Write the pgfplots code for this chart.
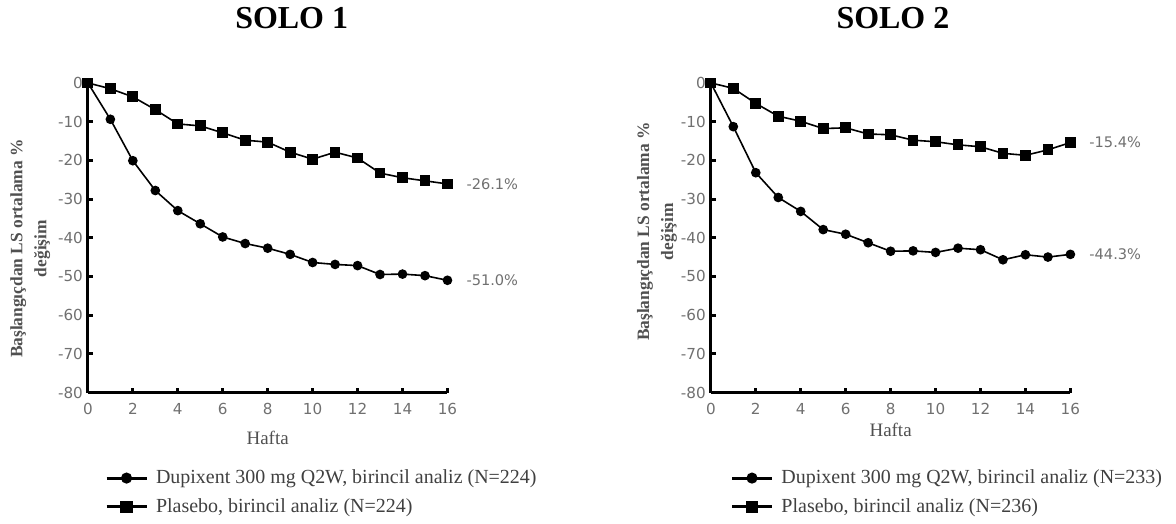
\documentclass[border=0pt]{standalone}
\usepackage{fontspec}
\setmainfont{Liberation Serif}
\newfontfamily\ticksans{DejaVu Sans}
\usepackage{pgfplots}
\pgfplotsset{compat=1.18}
\definecolor{tickgray}{HTML}{707070}
\definecolor{labgray}{HTML}{505050}

\pgfplotstableread{
wk  dupi   plac
0   0.0    0.0
1   -9.4   -1.5
2   -20.1  -3.6
3   -27.8  -6.9
4   -33.0  -10.6
5   -36.4  -11.1
6   -39.8  -12.9
7   -41.5  -14.8
8   -42.7  -15.3
9   -44.3  -17.9
10  -46.4  -19.7
11  -46.9  -17.9
12  -47.2  -19.4
13  -49.5  -23.3
14  -49.4  -24.5
15  -49.8  -25.3
16  -51.0  -26.1
}\soloone

\pgfplotstableread{
wk  dupi   plac
0   0.0    0.0
1   -11.3  -1.4
2   -23.2  -5.3
3   -29.6  -8.6
4   -33.2  -9.9
5   -37.9  -11.8
6   -39.1  -11.6
7   -41.3  -13.2
8   -43.5  -13.4
9   -43.4  -14.8
10  -43.8  -15.2
11  -42.7  -16.0
12  -43.1  -16.5
13  -45.7  -18.2
14  -44.4  -18.7
15  -45.0  -17.3
16  -44.3  -15.4
}\solotwo

\tikzset{endlab/.style={font=\ticksans\fontsize{7.3}{9}\selectfont, text=tickgray, anchor=west}}

\pgfplotsset{
  solo/.style={
    scale only axis, width=180pt, height=155pt,
    anchor=south west, clip=false,
    xmin=0, xmax=16, ymin=-80, ymax=0,
    axis x line=bottom, axis y line=left,
    axis line style={-, line width=1.5pt},
    xtick={0,2,...,16}, ytick={-80,-70,...,0},
    tick align=inside, major tick length=2.5pt,
    tick style={line width=1.5pt, black},
    ticklabel style={font=\ticksans\fontsize{7.6}{9}\selectfont, text=tickgray},
    /pgf/number format/assume math mode=true,
    xticklabel style={yshift=-2pt},
    yticklabel style={xshift=1pt},
    xlabel={Hafta},
    xlabel style={font=\fontsize{9.5}{11}\selectfont, text=labgray},
    ylabel={Başlangıçdan LS ortalama \%\\değişim},
    ylabel style={font=\bfseries\fontsize{8.7}{12}\selectfont, text=labgray,
      align=center, rotate=0, anchor=center},
    legend style={draw=none, fill=none, anchor=north west,
      font=\fontsize{10}{12}\selectfont, text=black!75,
      row sep=2pt, nodes={inner xsep=4pt}},
    legend cell align=left,
    legend image code/.code={%
      \draw[mark repeat=2, mark phase=2, #1, line width=1.5pt]
        plot coordinates {(0pt,0pt) (10pt,0pt) (20pt,0pt)};},
    every axis plot/.append style={black, line width=0.8pt},
  },
  dupi/.style={mark=*, mark size=2pt},
  plac/.style={mark=square*, mark size=2.3pt},
}

\begin{document}
\begin{tikzpicture}
\path (0,0) rectangle (588pt,261pt);

\node[font=\bfseries\fontsize{16}{18}\selectfont] at (146pt,252pt) {SOLO 1};
\node[font=\bfseries\fontsize{16}{18}\selectfont] at (447pt,252pt) {SOLO 2};

% SOLO 1
\begin{axis}[solo, at={(44pt,64.5pt)},
    xlabel style={at={(axis description cs:0.5,-0.145)}, anchor=center},
    ylabel style={at={(axis description cs:-0.16,0.465)}},
    legend style={at={(axis description cs:0.03,-0.222)}}]
\addplot[dupi] table[x=wk, y=dupi] {\soloone};
\addlegendentry{Dupixent 300 mg Q2W, birincil analiz (N=224)}
\addplot[plac] table[x=wk, y=plac] {\soloone};
\addlegendentry{Plasebo, birincil analiz (N=224)}
\node[endlab] at (axis cs:16,-26.1) [xshift=6pt] {-26.1\%};
\node[endlab] at (axis cs:16,-51.0) [xshift=6pt] {-51.0\%};
\end{axis}

% SOLO 2
\begin{axis}[solo, at={(355.85pt,64.5pt)},
    xlabel style={at={(axis description cs:0.5,-0.12)}, anchor=center},
    ylabel style={at={(axis description cs:-0.15,0.52)}},
    legend style={at={(axis description cs:0.037,-0.222)}}]
\addplot[dupi] table[x=wk, y=dupi] {\solotwo};
\addlegendentry{Dupixent 300 mg Q2W, birincil analiz (N=233)}
\addplot[plac] table[x=wk, y=plac] {\solotwo};
\addlegendentry{Plasebo, birincil analiz (N=236)}
\node[endlab] at (axis cs:16,-15.4) [xshift=6pt] {-15.4\%};
\node[endlab] at (axis cs:16,-44.3) [xshift=6pt] {-44.3\%};
\end{axis}
\end{tikzpicture}
\end{document}
